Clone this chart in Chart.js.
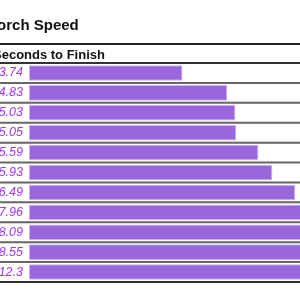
<!DOCTYPE html>
<html lang="en">
<head>
  <meta charset="UTF-8">
  <script src="https://cdn.jsdelivr.net/npm/chart.js@4.4.0/dist/chart.umd.min.js"></script>
  <title>Torch Speed</title>
  <style>
    body { margin: 0; overflow: hidden; background: #fff; }
    #wrap { position: absolute; left: -100px; top: 0; width: 720px; height: 300px; }
  </style>
</head>
<body>
  <div id="wrap"><canvas id="myChart" width="720" height="300"></canvas></div>
  <script>
    const title = 'Torch Speed'
    const header = 'Seconds to Finish'
    const seconds = [3.74, 4.83, 5.03, 5.05, 5.59, 5.93, 6.49, 7.96, 8.09, 8.55, 12.3]
    const rows = seconds.map((v, i) => 'row' + i)

    // title, column header and the row rules
    const tableLines = {
      id: 'tableLines',
      afterDraw(chart) {
        const ctx = chart.ctx
        const y = chart.scales.y
        const w = chart.width
        ctx.save()
        ctx.fillStyle = '#111'
        ctx.textBaseline = 'alphabetic'
        ctx.font = 'bold 15px "Liberation Sans", Arial, sans-serif'
        ctx.fillText(title, 89, 30)
        ctx.font = 'bold 13px "Liberation Sans", Arial, sans-serif'
        ctx.fillText(header, 93, 59)

        ctx.strokeStyle = '#222'
        ctx.lineWidth = 2
        ctx.beginPath()
        ctx.moveTo(0, 44)
        ctx.lineTo(w, 44)
        ctx.stroke()

        const step = (y.bottom - y.top) / rows.length
        for (let i = 0; i <= rows.length; i++) {
          const yy = y.top + i * step
          ctx.strokeStyle = (i === 0 || i === rows.length) ? '#333' : '#666'
          ctx.beginPath()
          ctx.moveTo(0, yy)
          ctx.lineTo(w, yy)
          ctx.stroke()
        }
        ctx.restore()
      }
    }

    const ctx = document.getElementById('myChart').getContext('2d')
    const myChart = new Chart(ctx, {
      type: 'bar',
      data: {
        labels: rows,
        datasets: [{
          data: seconds,
          backgroundColor: '#9966dd',
          borderColor: '#cbb0f2',
          borderWidth: 1,
          borderSkipped: false,
          barPercentage: 0.78,
          categoryPercentage: 1
        }]
      },
      options: {
        indexAxis: 'y',
        responsive: false,
        animation: false,
        layout: { padding: { top: 63, bottom: 18, left: 0, right: 0 } },
        plugins: {
          legend: { display: false },
          tooltip: { enabled: false }
        },
        scales: {
          x: {
            display: false,
            min: 0,
            max: 14.4
          },
          y: {
            afterFit(axis) { axis.width = 129 },
            grid: { display: false, drawTicks: false },
            border: { display: false },
            ticks: {
              padding: 6,
              color: '#a033ff',
              font: { size: 12.5, style: 'italic', family: '"Liberation Sans", Arial, sans-serif' },
              callback: function(value, index) {
                return seconds[index]
              }
            }
          }
        }
      },
      plugins: [tableLines]
    })
  </script>
</body>
</html>
